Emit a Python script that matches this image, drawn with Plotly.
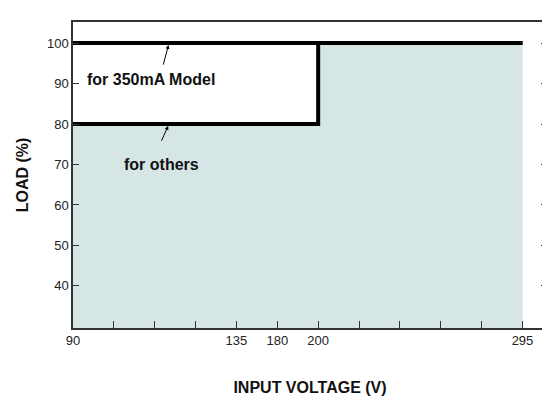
import numpy as np
import plotly.graph_objects as go

# tick voltages and their place on the (non-linear) printed axis
tick_volts = [90, 135, 180, 200, 295]
tick_grid = [0, 4, 5, 6, 11]

# derating curves
others_v = [90, 200, 200, 295]
others_load = [80, 80, 100, 100]
model_v = [90, 295]
model_load = [100, 100]

y_ticks = [40, 50, 60, 70, 80, 90, 100]


def gx(v):
    return np.interp(v, tick_volts, tick_grid)


fig = go.Figure()
fig.add_trace(go.Scatter(x=gx(others_v), y=others_load, mode="lines", fill="tozeroy",
                         fillcolor="#d6e6e5", line=dict(color="black", width=4)))
fig.add_trace(go.Scatter(x=gx(model_v), y=model_load, mode="lines",
                         line=dict(color="black", width=4)))

fig.add_annotation(x=gx(90), y=91, xref="x", yref="y", text="<b>for 350mA Model</b>",
                   showarrow=False, xanchor="left", xshift=12, font=dict(size=16, color="#111"))
fig.add_annotation(x=2.35, y=100, ax=2.2, ay=94.3, axref="x", ayref="y", text="",
                   showarrow=True, arrowhead=2, arrowsize=0.8, arrowwidth=1, arrowcolor="black",
                   standoff=2)
fig.add_annotation(x=gx(90) + 1.2, y=70, xref="x", yref="y", text="<b>for others</b>",
                   showarrow=False, xanchor="left", font=dict(size=16, color="#111"))
fig.add_annotation(x=2.35, y=80, ax=2.15, ay=75.5, axref="x", ayref="y", text="",
                   showarrow=True, arrowhead=2, arrowsize=0.8, arrowwidth=1, arrowcolor="black",
                   standoff=2)

fig.update_xaxes(range=[0, 11.6], tickmode="array", tickvals=tick_grid, automargin=False,
                 ticktext=[str(v) for v in tick_volts], ticks="", showgrid=False, zeroline=False,
                 showline=True, linecolor="#333", linewidth=1.5, mirror=True,
                 minor=dict(tickvals=list(range(1, 12)), ticks="inside", ticklen=7, tickcolor="#333"),
                 tickfont=dict(size=13, color="#222", family="Arial"),
                 title=dict(text="<b>INPUT VOLTAGE (V)</b>", font=dict(size=16, color="#111", family="Arial"),
                            standoff=34))
fig.update_yaxes(range=[29.6, 105.2], tickvals=y_ticks, ticks="inside", ticklen=6, tickcolor="#333",
                 automargin=False,
                 showgrid=False, zeroline=False, showline=True, linecolor="#333", linewidth=1.5,
                 mirror="ticks", tickfont=dict(size=13, color="#222", family="Arial"),
                 title=dict(text="<b>LOAD (%)</b>", font=dict(size=16, color="#111", family="Arial"),
                            standoff=14))
fig.update_layout(width=550, height=400, showlegend=False, plot_bgcolor="white", paper_bgcolor="white",
                  margin=dict(l=65, r=11, t=14, b=80, autoexpand=False), font=dict(family="Arial"))
fig.write_html("out.html")
